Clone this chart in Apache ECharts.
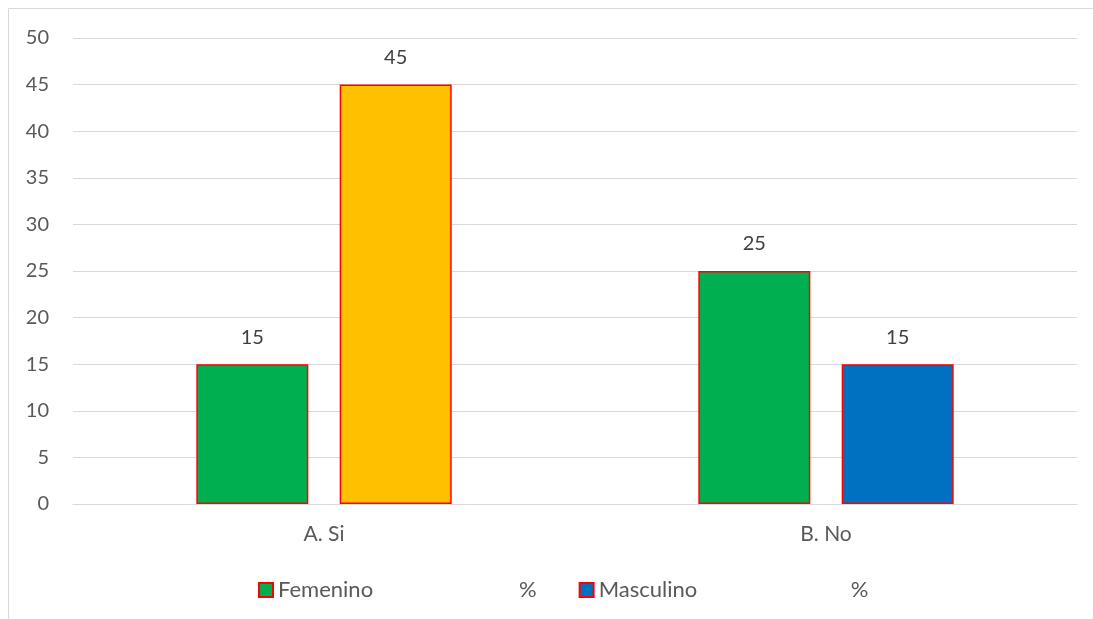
<!DOCTYPE html>
<html>
<head>
<meta charset="utf-8">
<script src="https://cdn.jsdelivr.net/npm/echarts@6/dist/echarts.min.js"></script>
<style>
  html, body { margin: 0; padding: 0; background: #fff; }
  #chart { width: 1093px; height: 619px; }
</style>
</head>
<body>
<div id="chart"></div>
<script>
// Answers by group (percent)
const categories = ['A. Si', 'B. No'];
const femenino = [15, 25];
const masculino = [45, 15];
const masculinoColors = ['#FFC000', '#0070C0'];
const yTicks = { min: 0, max: 50, interval: 5 };

const font = 'Lato, "Open Sans", "Liberation Sans", sans-serif';
const chart = echarts.init(document.getElementById('chart'), null, { renderer: 'canvas' });

const labelStyle = {
  show: true,
  position: 'top',
  distance: 17,
  color: '#404040',
  fontSize: 20,
  fontFamily: font
};

const legendText = { fontSize: 22, color: '#595959', fontFamily: font };

chart.setOption({
  animation: false,
  graphic: [{
    type: 'rect',
    shape: { x: 8.5, y: 8.5, width: 1200, height: 700 },
    style: { fill: 'none', stroke: '#D9D9D9', lineWidth: 1 },
    silent: true
  }],
  grid: { left: 73, right: 16, top: 38, bottom: 115 },
  legend: {
    bottom: 13,
    left: 253,
    itemWidth: 14,
    itemHeight: 14,
    itemGap: 42,
    icon: 'rect',
    textStyle: {
      ...legendText,
      rich: {
        f: { ...legendText, width: 241 },
        m: { ...legendText, width: 252 },
        p: legendText
      }
    },
    formatter: name => (name === 'Femenino' ? '{f|' : '{m|') + name + '}{p|%}',
    data: ['Femenino', 'Masculino']
  },
  xAxis: {
    type: 'category',
    data: categories,
    axisTick: { show: false },
    axisLine: { lineStyle: { color: '#D9D9D9', width: 1 } },
    axisLabel: { color: '#595959', fontSize: 21, fontFamily: font, margin: 20 }
  },
  yAxis: {
    type: 'value',
    min: yTicks.min,
    max: yTicks.max,
    interval: yTicks.interval,
    axisLine: { show: false },
    axisTick: { show: false },
    splitLine: { lineStyle: { color: '#D9D9D9', width: 1 } },
    axisLabel: { color: '#595959', fontSize: 20, fontFamily: font, margin: 24 }
  },
  series: [
    {
      name: 'Femenino',
      type: 'bar',
      data: femenino,
      barWidth: 112,
      barGap: '28%',
      itemStyle: { color: '#00B050', borderColor: '#FF0000', borderWidth: 1.5 },
      label: labelStyle
    },
    {
      name: 'Masculino',
      type: 'bar',
      data: masculino.map((v, i) => ({ value: v, itemStyle: { color: masculinoColors[i] } })),
      barWidth: 112,
      itemStyle: { color: '#0070C0', borderColor: '#FF0000', borderWidth: 1.5 },
      label: labelStyle
    }
  ]
});
</script>
</body>
</html>
